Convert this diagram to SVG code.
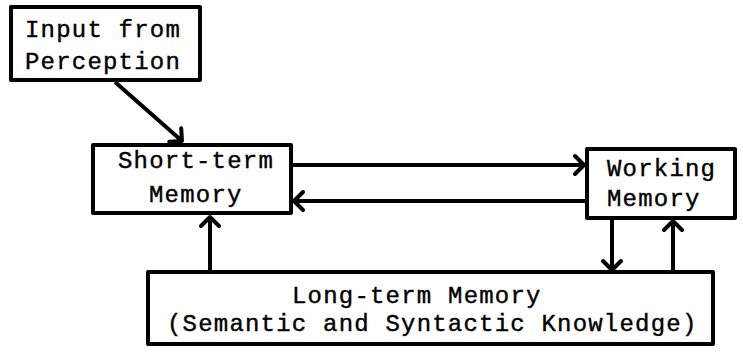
<svg xmlns="http://www.w3.org/2000/svg" width="743" height="362" viewBox="0 0 743 362">
<style>
.box{fill:#fff;stroke:#000;stroke-width:4;stroke-linejoin:round}
.t{font-family:"Liberation Mono","DejaVu Sans Mono",monospace;font-size:24px;letter-spacing:1.2px;fill:#000;stroke:#000;stroke-width:0.4}
.c{stroke:#000;stroke-width:4;fill:none}
</style>
<defs>
<marker id="v" markerUnits="userSpaceOnUse" markerWidth="24" markerHeight="24" refX="12" refY="12" orient="auto" viewBox="0 0 24 24">
<path d="M3 3 L12 12 L3 21" fill="none" stroke="#000" stroke-width="4" stroke-linecap="round" stroke-linejoin="round"/>
</marker>
</defs>
<g id="connectors">
<line class="c" x1="115" y1="82" x2="182" y2="141" marker-end="url(#v)"/>
<line class="c" x1="293" y1="165" x2="584" y2="165" marker-end="url(#v)"/>
<line class="c" x1="585" y1="201" x2="294" y2="201" marker-end="url(#v)"/>
<line class="c" x1="210" y1="272" x2="210" y2="217" marker-end="url(#v)"/>
<line class="c" x1="612" y1="220" x2="612" y2="270" marker-end="url(#v)"/>
<line class="c" x1="673" y1="273" x2="673" y2="221" marker-end="url(#v)"/>
</g>
<g id="input">
<rect class="box" x="11" y="7" width="189" height="73"/>
<text class="t" x="25" y="37">Input from</text>
<text class="t" x="25" y="69">Perception</text>
</g>
<g id="short-term">
<rect class="box" x="93" y="145" width="198" height="68"/>
<text class="t" x="118" y="168">Short-term</text>
<text class="t" x="149" y="202">Memory</text>
</g>
<g id="working">
<rect class="box" x="587" y="149" width="148" height="69"/>
<text class="t" x="607" y="176">Working</text>
<text class="t" x="607" y="206">Memory</text>
</g>
<g id="long-term">
<rect class="box" x="148" y="272" width="565" height="72"/>
<text class="t" x="292" y="303">Long-term Memory</text>
<text class="t" x="167" y="331">(Semantic and Syntactic Knowledge)</text>
</g>
</svg>
